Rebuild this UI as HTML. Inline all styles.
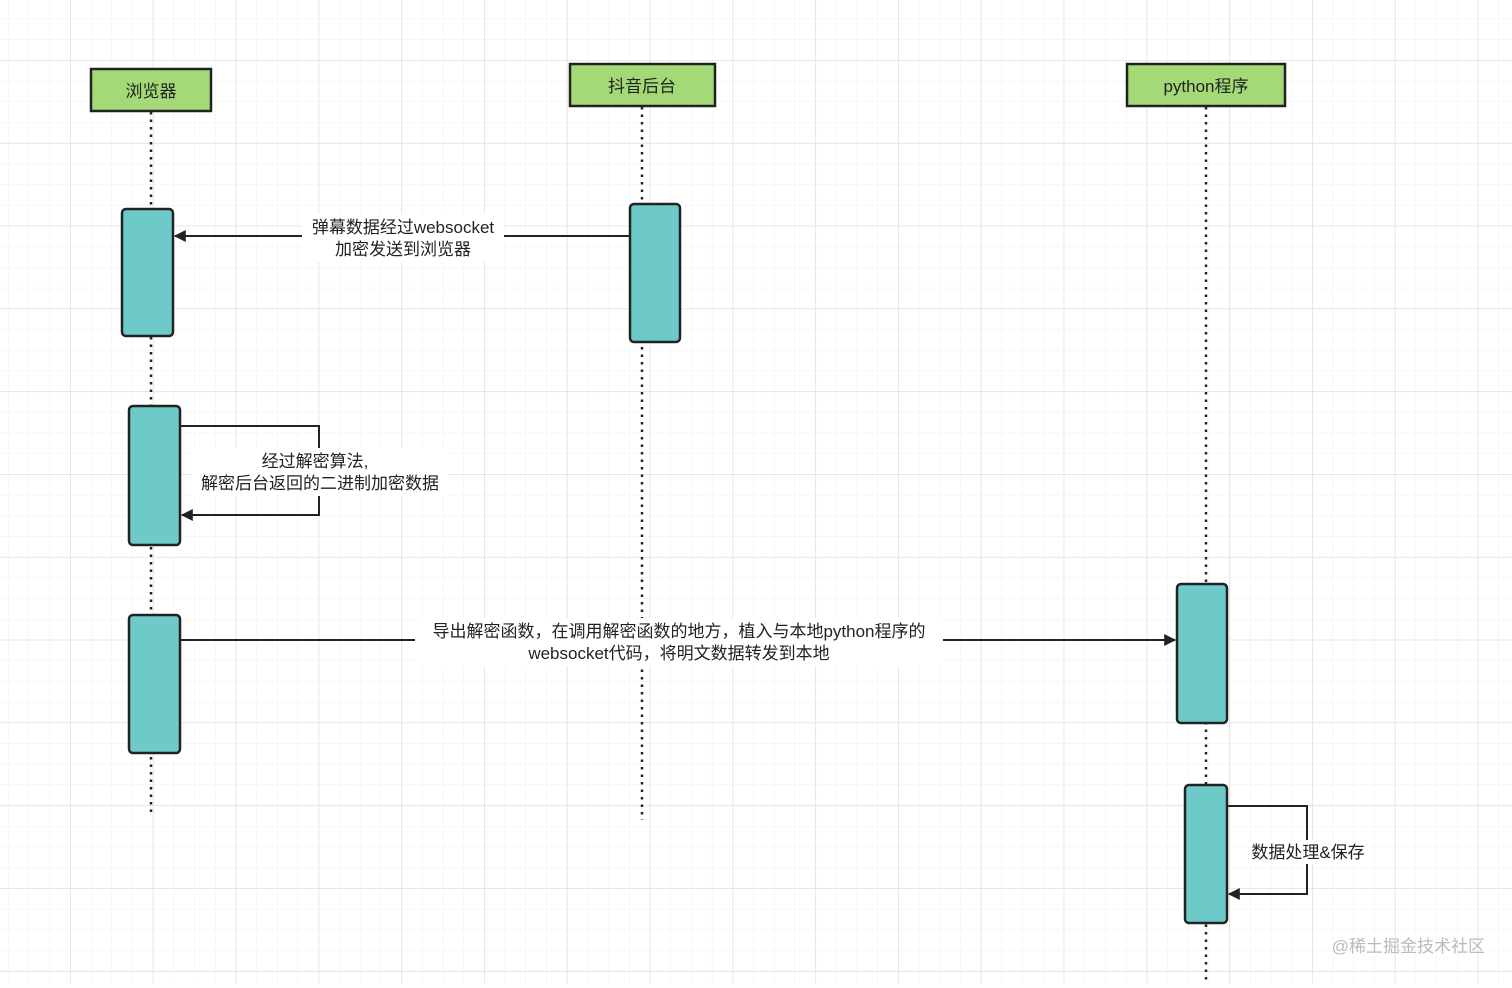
<!DOCTYPE html>
<html><head><meta charset="utf-8"><style>
html,body{margin:0;padding:0;background:#fff}
svg text{font-family:"Liberation Sans","Noto Sans CJK SC",sans-serif;fill:#222}
</style></head><body>
<svg width="1512" height="983" xmlns="http://www.w3.org/2000/svg">
<defs>
<pattern id="mn" x="8" y="-2" width="20.7" height="20.7" patternUnits="userSpaceOnUse"><path d="M0 0H20.7M0 0V20.7" stroke="#efefef" stroke-width="1" fill="none"/></pattern>
<pattern id="mj" x="70" y="60" width="82.8" height="82.8" patternUnits="userSpaceOnUse"><path d="M0 0H82.8M0 0V82.8" stroke="#e0e0e0" stroke-width="1.5" fill="none"/></pattern>
<marker id="ar" viewBox="0 0 10 10" refX="9" refY="5" markerWidth="20" markerHeight="12" markerUnits="userSpaceOnUse" orient="auto"><path d="M0 0L10 5L0 10z" fill="#222"/></marker>
</defs>
<rect width="1512" height="983" fill="url(#mn)"/>
<rect width="1512" height="983" fill="url(#mj)"/>
<g stroke="#222" stroke-width="2.5" stroke-dasharray="2.5 5" fill="none">
<line x1="151" y1="112" x2="151" y2="815"/>
<line x1="642" y1="107" x2="642" y2="820"/>
<line x1="1206" y1="107" x2="1206" y2="983"/>
</g>
<g fill="#a3d977" stroke="#222" stroke-width="2.5">
<rect x="91" y="69" width="120" height="42"/>
<rect x="570" y="64" width="145" height="42"/>
<rect x="1127" y="64" width="158" height="42"/>
</g>
<text x="151" y="97" font-size="17" text-anchor="middle">浏览器</text>
<text x="642" y="92" font-size="17" text-anchor="middle">抖音后台</text>
<text x="1206" y="92" font-size="17" text-anchor="middle">python程序</text>
<g fill="#6ecac8" stroke="#222" stroke-width="2.5">
<rect x="122" y="209" width="51" height="127" rx="4"/>
<rect x="630" y="204" width="50" height="138" rx="4"/>
<rect x="129" y="406" width="51" height="139" rx="4"/>
<rect x="129" y="615" width="51" height="138" rx="4"/>
<rect x="1177" y="584" width="50" height="139" rx="4"/>
<rect x="1185" y="785" width="42" height="138" rx="4"/>
</g>
<g stroke="#222" stroke-width="2" fill="none">
<line x1="629" y1="236" x2="175" y2="236" marker-end="url(#ar)"/>
<polyline points="181,426 319,426 319,515 182,515" marker-end="url(#ar)"/>
<line x1="181" y1="640" x2="1175" y2="640" marker-end="url(#ar)"/>
<polyline points="1228,806 1307,806 1307,894 1229,894" marker-end="url(#ar)"/>
</g>
<rect x="302" y="214" width="202" height="48" fill="#fff"/>
<text x="403" y="233" font-size="17" text-anchor="middle">弹幕数据经过websocket</text>
<text x="403" y="255" font-size="17" text-anchor="middle">加密发送到浏览器</text>
<rect x="192" y="448" width="256" height="48" fill="#fff"/>
<text x="315" y="467" font-size="17" text-anchor="middle">经过解密算法,</text>
<text x="320" y="489" font-size="17" text-anchor="middle">解密后台返回的二进制加密数据</text>
<rect x="415" y="618" width="528" height="48" fill="#fff"/>
<text x="679" y="637" font-size="17" text-anchor="middle">导出解密函数，在调用解密函数的地方，植入与本地python程序的</text>
<text x="679" y="659" font-size="17" text-anchor="middle">websocket代码，将明文数据转发到本地</text>
<rect x="1246" y="840" width="124" height="24" fill="#fff"/>
<text x="1308" y="858" font-size="17" text-anchor="middle">数据处理&amp;保存</text>
<text x="1485" y="952" font-size="17" text-anchor="end" style="fill:#bbb">@稀土掘金技术社区</text>
</svg>
</body></html>
